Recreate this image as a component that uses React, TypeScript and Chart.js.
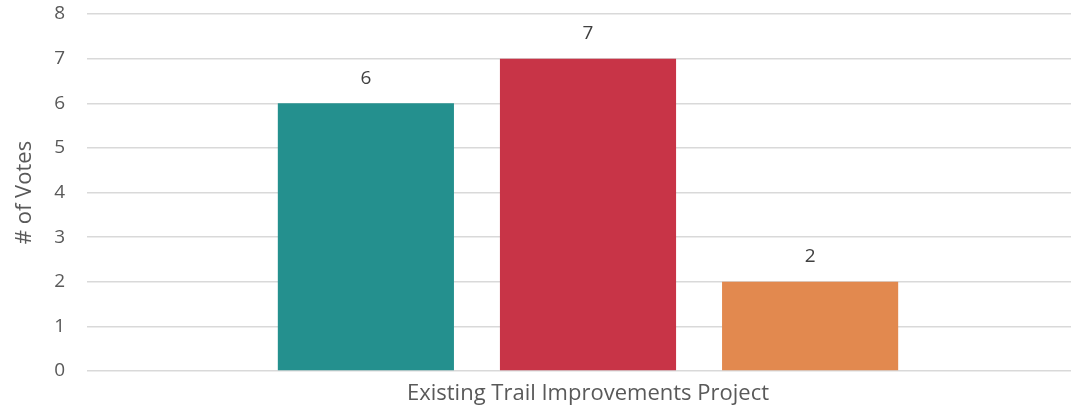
import React, { useEffect, useRef } from "react";
import { Chart, registerables } from "chart.js";

Chart.register(...registerables);

const categories = ["Existing Trail Improvements Project"];
const seriesNames = ["Option 1", "Option 2", "Option 3"];
const seriesA = [6];
const seriesB = [7];
const seriesC = [2];
const seriesColors = ["#24908E", "#C83447", "#E2894F"];
const yTicks = [0, 1, 2, 3, 4, 5, 6, 7, 8];

const FONT = "'Open Sans', 'Noto Sans', sans-serif";

const dataLabelPlugin = {
  id: "dataLabels",
  afterDatasetsDraw(chart: any) {
    const ctx = chart.ctx;
    ctx.save();
    ctx.fillStyle = "#404040";
    ctx.font = `19px ${FONT}`;
    ctx.textAlign = "center";
    ctx.textBaseline = "middle";
    chart.data.datasets.forEach((ds: any, i: number) => {
      const meta = chart.getDatasetMeta(i);
      meta.data.forEach((bar: any, j: number) => {
        ctx.fillText(String(ds.data[j]), bar.x, bar.y - 25);
      });
    });
    ctx.restore();
  },
};

export default function App() {
  const ref = useRef<HTMLCanvasElement | null>(null);
  useEffect(() => {
    if (!ref.current) return;
    const series = [seriesA, seriesB, seriesC];
    const chart = new Chart(ref.current, {
      type: "bar",
      data: {
        labels: categories,
        datasets: series.map((d, i) => ({
          label: seriesNames[i],
          data: d,
          backgroundColor: seriesColors[i],
          borderWidth: 0,
          barPercentage: 0.793,
          categoryPercentage: 0.665,
        })),
      },
      options: {
        responsive: false,
        animation: false,
        maintainAspectRatio: false,
        layout: { padding: { top: 14, left: 0, right: 1, bottom: 0 } },
        plugins: {
          legend: { display: false },
          tooltip: { enabled: false },
        },
        scales: {
          x: {
            grid: { display: false },
            border: { display: false },
            ticks: {
              color: "#595959",
              font: { family: FONT, size: 22 },
              padding: 2,
            },
            afterFit(scale: any) {
              scale.height = 36;
              scale.paddingLeft = 0;
              scale.paddingRight = 0;
            },
          },
          y: {
            min: 0,
            max: 8,
            afterBuildTicks(scale: any) {
              scale.ticks = yTicks.map((v) => ({ value: v }));
            },
            grid: { color: "#D9D9D9", lineWidth: 1.5, drawTicks: false },
            border: { display: false },
            ticks: {
              color: "#595959",
              font: { family: FONT, size: 19 },
              padding: 22,
            },
            title: {
              display: true,
              text: "# of Votes",
              color: "#595959",
              font: { family: FONT, size: 22 },
              padding: { top: 12, bottom: 2 },
            },
            afterFit(scale: any) {
              scale.width = 87;
              scale.paddingTop = 0;
              scale.paddingBottom = 0;
            },
          },
        },
      },
      plugins: [dataLabelPlugin],
    });
    return () => chart.destroy();
  }, []);
  return (
    <div
      style={{
        position: "fixed",
        left: 0,
        top: 0,
        width: 1071,
        height: 407,
        overflow: "hidden",
        background: "#fff",
      }}
    >
      <canvas ref={ref} width={1090} height={407} style={{ display: "block" }} />
    </div>
  );
}
